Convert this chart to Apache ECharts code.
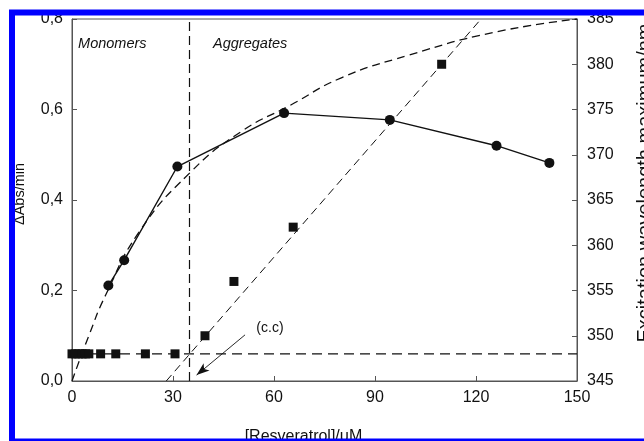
<!DOCTYPE html>
<html>
<head>
<meta charset="utf-8">
<script src="https://cdn.jsdelivr.net/npm/echarts@6/dist/echarts.min.js"></script>
<style>
  html, body { margin: 0; padding: 0; background: #fff; }
  #chart { width: 644px; height: 441px; }
</style>
</head>
<body>
<div id="chart"></div>
<script>
// ΔAbs/min, circles, left axis
var absX = [10.8, 15.5, 31.3, 63.0, 94.4, 126.1, 141.8];
var absY = [0.211, 0.267, 0.474, 0.592, 0.577, 0.520, 0.482];
// excitation wavelength maximum, squares, right axis
var excX = [0, 1, 2, 3, 4, 5, 8.5, 13, 21.8, 30.6, 39.5, 48.1, 65.7, 109.8];
var excY = [348, 348, 348, 348, 348, 348, 348, 348, 348, 348, 350, 356, 362, 380];
// dashed saturation curve (left axis)
var fitX = [0, 5, 10, 20, 35, 50, 65, 80, 100, 125, 150];
var fitY = [0, 0.10, 0.19, 0.33, 0.46, 0.55, 0.61, 0.67, 0.72, 0.77, 0.80];
// dashed straight lines (right axis)
var riseX = [28, 121.5];
var riseY = [345, 385];
var baseX = [0, 150];
var baseY = [348, 348];
// critical concentration
var ccX = 34.8;
var arrowFrom = [51.4, 0.102];
var arrowTo = [37.0, 0.013];

var xTicks = ['0', '30', '60', '90', '120', '150'];
var leftTicks = ['0,0', '0,2', '0,4', '0,6', '0,8'];
var rightTicks = ['345', '350', '355', '360', '365', '370', '375', '380', '385'];

var notes = [
  { name: 'Monomers', x: 1.8, y: 0.745, italic: true, pos: 'right' },
  { name: 'Aggregates', x: 41.9, y: 0.745, italic: true, pos: 'right' },
  { name: '(c.c)', x: 58.8, y: 0.117, italic: false, pos: 'inside' }
];

function zip(a, b) {
  return a.map(function (v, i) { return [v, b[i]]; });
}

var font = 'Liberation Sans, Arial, sans-serif';
var ink = '#111';
var axisCol = '#555';

var chart = echarts.init(document.getElementById('chart'));
chart.setOption({
  animation: false,
  backgroundColor: '#fff',
  grid: {
    left: 72, right: 67, top: 19, bottom: 60,
    outerBoundsMode: 'none', containLabel: false,
    show: true, borderColor: axisCol, borderWidth: 1
  },
  xAxis: {
    type: 'value', min: 0, max: 150, interval: 30,
    name: '[Resveratrol]/μM', nameLocation: 'middle', nameGap: 48,
    nameTextStyle: { fontFamily: font, fontSize: 16, color: ink, padding: [0, 42, 0, 0] },
    axisLine: { lineStyle: { color: axisCol } },
    axisTick: { inside: true, length: 5, lineStyle: { color: axisCol } },
    axisLabel: {
      fontFamily: font, fontSize: 16, color: ink, margin: 9,
      formatter: function (v) { return xTicks[Math.round(v / 30)]; }
    },
    splitLine: { show: false }
  },
  yAxis: [{
    type: 'value', min: 0, max: 0.8, interval: 0.2,
    name: 'ΔAbs/min', nameLocation: 'middle', nameGap: 45,
    nameTextStyle: { fontFamily: font, fontSize: 14.5, color: ink, padding: [0, 0, 0, 12] },
    axisLine: { show: true, lineStyle: { color: axisCol } },
    axisTick: { show: true, inside: true, length: 5, lineStyle: { color: axisCol } },
    axisLabel: {
      fontFamily: font, fontSize: 16, color: ink, margin: 9,
      formatter: function (v) { return leftTicks[Math.round(v / 0.2)]; }
    },
    splitLine: { show: false }
  }, {
    type: 'value', min: 345, max: 385, interval: 5, position: 'right',
    name: 'Excitation wavelength maximum/nm', nameLocation: 'middle', nameGap: 58,
    nameTextStyle: { fontFamily: font, fontSize: 20, color: ink, padding: [0, 0, 0, 34] },
    axisLine: { show: true, lineStyle: { color: axisCol } },
    axisTick: { show: true, inside: true, length: 5, lineStyle: { color: axisCol } },
    axisLabel: {
      fontFamily: font, fontSize: 16, color: ink, margin: 10,
      formatter: function (v) { return rightTicks[Math.round((v - 345) / 5)]; }
    },
    splitLine: { show: false }
  }],
  series: [
    {
      name: 'fit', type: 'line', yAxisIndex: 0, smooth: true, symbol: 'none',
      data: zip(fitX, fitY),
      lineStyle: { color: ink, width: 1.3, type: [8, 5] }, z: 2
    },
    {
      name: 'rise', type: 'line', yAxisIndex: 1, symbol: 'none',
      data: zip(riseX, riseY),
      lineStyle: { color: ink, width: 1, type: [8, 5] }, z: 2
    },
    {
      name: 'base', type: 'line', yAxisIndex: 1, symbol: 'none',
      data: zip(baseX, baseY),
      lineStyle: { color: ink, width: 1.3, type: [10, 6] }, z: 2,
      markLine: {
        silent: true, symbol: 'none', label: { show: false },
        lineStyle: { color: ink, width: 1.2, type: [9, 5] },
        data: [{ xAxis: ccX }]
      }
    },
    {
      name: 'arrow', type: 'line', yAxisIndex: 0, data: [],
      markLine: {
        silent: true, symbol: ['none', 'arrow'], symbolSize: [7, 13],
        label: { show: false },
        lineStyle: { color: ink, width: 0.9, type: 'solid' },
        data: [[{ coord: arrowFrom }, { coord: arrowTo }]]
      }
    },
    {
      name: 'ΔAbs/min', type: 'line', yAxisIndex: 0,
      data: zip(absX, absY),
      symbol: 'circle', symbolSize: 10,
      lineStyle: { color: ink, width: 1.4 },
      itemStyle: { color: ink, opacity: 1 }, z: 4
    },
    {
      name: 'λmax', type: 'scatter', yAxisIndex: 1,
      data: zip(excX, excY),
      symbol: 'rect', symbolSize: 9,
      itemStyle: { color: ink, opacity: 1 }, z: 4
    },
    {
      name: 'notes', type: 'scatter', yAxisIndex: 0, symbolSize: 0, silent: true,
      itemStyle: { opacity: 1 },
      data: notes.map(function (n) {
        return {
          name: n.name, value: [n.x, n.y],
          label: {
            show: true, position: n.pos, distance: 0, formatter: '{b}',
            fontFamily: font, fontSize: n.italic ? 14.5 : 14, color: ink,
            fontStyle: n.italic ? 'italic' : 'normal'
          }
        };
      })
    }
  ],
  graphic: [{
    type: 'rect', z: 100, silent: true,
    shape: { x: 12, y: 12.5, width: 800, height: 429 },
    style: { fill: 'none', stroke: '#0000ff', lineWidth: 6 }
  }]
});
</script>
</body>
</html>
